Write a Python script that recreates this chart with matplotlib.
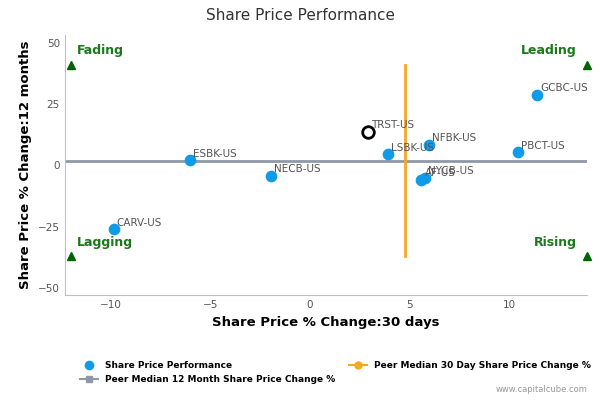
import matplotlib
matplotlib.use('Agg')
from matplotlib import pyplot as plt
from matplotlib.lines import Line2D

tickers = ['CARV-US', 'ESBK-US', 'NECB-US', 'LSBK-US', 'NFBK-US', 'AF-US', 'NYCB-US', 'PBCT-US', 'GCBC-US']
chg_30d = [-9.85, -6.0, -1.95, 3.9, 6.0, 5.6, 5.8, 10.45, 11.4]
chg_12m = [-26.2, 2.0, -4.4, 4.4, 8.3, -6.0, -5.2, 5.2, 28.6]
focus = ('TRST-US', 2.9, 13.5)
median_30d = 4.77
median_12m = 1.6
quadrants = [('Fading', -12.0, 41), ('Leading', 13.9, 41), ('Lagging', -12.0, -37), ('Rising', 13.9, -37)]

blue = '#0f9be8'
orange = '#f7a627'
grey = '#8e98a6'
green = '#1a7a1a'

fig = plt.figure(figsize=(6, 4), dpi=100)
ax = fig.add_axes([0.108, 0.262, 0.87, 0.65])
ax.set_xlim(-12.3, 13.9)
ax.set_ylim(-53, 53)

ax.plot([median_30d, median_30d], [-37, 41], color=orange, lw=2, zorder=2)
ax.axhline(median_12m, color=grey, lw=2, zorder=1)
ax.scatter(chg_30d, chg_12m, s=55, color=blue, zorder=3)
for t, x, y in zip(tickers, chg_30d, chg_12m):
    ax.text(x + 0.15, y + 1.5, t, fontsize=7.5, color='#555555', zorder=4)
ax.scatter([focus[1]], [focus[2]], s=70, facecolor='white', edgecolor='black', lw=2, zorder=3)
ax.text(focus[1] + 0.15, focus[2] + 1.5, focus[0], fontsize=7.5, color='#555555')

for name, x, y in quadrants:
    ax.plot([x], [y], marker='^', color='#006400', ms=6, clip_on=False, zorder=5)
    ha = 'left' if x < 0 else 'right'
    dx = 0.3 if x < 0 else -0.5
    ax.text(x + dx, y + 3, name, color=green, fontsize=9, fontweight='bold', ha=ha, va='bottom')

ax.set_xticks([-10, -5, 0, 5, 10])
ax.set_yticks([-50, -25, 0, 25, 50])
ax.tick_params(labelsize=7.5, colors='#555555', length=0)
for s in ['top', 'right']:
    ax.spines[s].set_visible(False)
ax.spines['left'].set_color('#c0c0c0')
ax.spines['bottom'].set_color('#c0c0c0')
ax.set_xlabel('Share Price % Change:30 days', fontsize=9.5, fontweight='bold')
ax.set_ylabel('Share Price % Change:12 months', fontsize=9.5, fontweight='bold')
fig.text(0.5, 0.95, 'Share Price Performance', ha='center', fontsize=11, color='#333333')

handles = [
    Line2D([0], [0], marker='o', color='w', markerfacecolor=blue, ms=8, label='Share Price Performance'),
    Line2D([0], [0], marker='s', color=grey, markerfacecolor=grey, ms=5, label='Peer Median 12 Month Share Price Change %'),
    Line2D([0], [0], marker='o', color=orange, markerfacecolor=orange, ms=5, label='Peer Median 30 Day Share Price Change %'),
]
fig.legend(handles=handles, loc='lower left', bbox_to_anchor=(0.12, 0.02), ncol=2, frameon=False,
           prop={'size': 6.5, 'weight': 'bold'}, columnspacing=1.5, handlelength=2)
fig.text(0.98, 0.02, 'www.capitalcube.com', ha='right', fontsize=6, color='#999999')
fig.savefig('out.png')
